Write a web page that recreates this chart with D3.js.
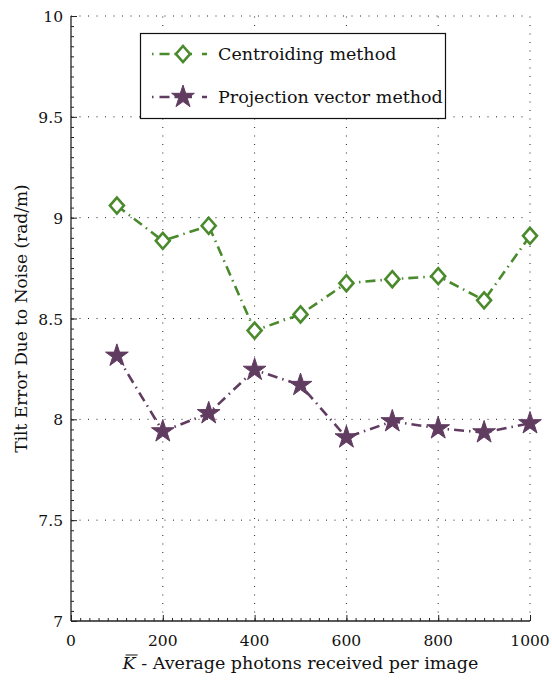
<!DOCTYPE html>
<html>
<head>
<meta charset="utf-8">
<script src="https://cdn.jsdelivr.net/npm/d3@7"></script>
<style>
  body { margin: 0; background: #fff; }
</style>
</head>
<body>
<svg></svg>
<script>
// размеры
const width = 552;
const height = 681;
const margin = { left: 71, right: 22, top: 16, bottom: 60 };
const font = "'DejaVu Serif', serif";

// данные
const photons = [100, 200, 300, 400, 500, 600, 700, 800, 900, 1000];
const centroiding = [9.06, 8.885, 8.96, 8.44, 8.52, 8.675, 8.695, 8.71, 8.59, 8.91];
const projection = [8.315, 7.94, 8.03, 8.245, 8.17, 7.91, 7.99, 7.955, 7.935, 7.98];
const xTicks = [0, 200, 400, 600, 800, 1000];
const yTicks = [7, 7.5, 8, 8.5, 9, 9.5, 10];
const seriesNames = ["Centroiding method", "Projection vector method"];

const green = "#4a8a2c";
const purple = "#613c61";
const dash = "10,5,1.5,5";

let svg = d3.select("svg").attr("width", width).attr("height", height)
    .attr("font-family", font).style("font-family", font);

const x = d3.scaleLinear().domain([0, 1000]).range([margin.left, width - margin.right]);
const y = d3.scaleLinear().domain([7, 10]).range([height - margin.bottom, margin.top]);

// сетка
let grid = svg.append("g").style("stroke", "#222").style("stroke-width", 1).style("stroke-dasharray", "1,7.5");
xTicks.slice(1).forEach(t => {
    grid.append("line").attr("x1", x(t)).attr("x2", x(t)).attr("y1", y(7)).attr("y2", y(10));
});
yTicks.slice(1).forEach(t => {
    grid.append("line").attr("x1", x(0)).attr("x2", x(1000)).attr("y1", y(t)).attr("y2", y(t));
});

// оси с малыми делениями внутрь
let xAxis = svg.append("g").attr("transform", `translate(0,${y(7)})`);
xAxis.call(d3.axisBottom(x).tickValues(d3.range(0, 1001, 20)).tickSize(-3).tickFormat(""));
xAxis.append("g").call(d3.axisBottom(x).tickValues(xTicks).tickSize(-6).tickFormat(""));
xAxis.selectAll("path.domain").remove();
xAxis.selectAll("line").style("stroke", "#222");
xAxis.append("line").attr("x1", x(0)).attr("x2", x(1000)).style("stroke", "#222").style("stroke-width", 1.3);
xTicks.forEach(t => {
    xAxis.append("text").attr("x", x(t)).attr("y", 25).attr("text-anchor", "middle")
        .style("font-family", font).style("font-size", "15.5px").style("fill", "#111").text(t);
});

let yAxis = svg.append("g").attr("transform", `translate(${x(0)},0)`);
yAxis.call(d3.axisLeft(y).tickValues(d3.range(140, 201).map(v => v / 20)).tickSize(-3).tickFormat(""));
yAxis.append("g").call(d3.axisLeft(y).tickValues(yTicks).tickSize(-6).tickFormat(""));
yAxis.selectAll("path.domain").remove();
yAxis.selectAll("line").style("stroke", "#222");
yAxis.append("line").attr("y1", y(7)).attr("y2", y(10)).style("stroke", "#222").style("stroke-width", 1.3);
yTicks.forEach(t => {
    yAxis.append("text").attr("x", -8).attr("y", y(t) + 6).attr("text-anchor", "end")
        .style("font-family", font).style("font-size", "15.5px").style("fill", "#111").text(t);
});

// подписи осей
let xl = svg.append("text").attr("x", (x(0) + x(1000)) / 2).attr("y", 669)
    .attr("text-anchor", "middle").style("font-family", font).style("font-size", "17.5px").style("fill", "#111");
let kSpan = xl.append("tspan").style("font-style", "italic").text("K");
xl.append("tspan").text(" - Average photons received per image");
// черта над K
let kBox = kSpan.node().getBBox();
svg.append("line").attr("x1", kBox.x + 4).attr("x2", kBox.x + kBox.width + 1)
    .attr("y1", kBox.y + 2).attr("y2", kBox.y + 2)
    .style("stroke", "#111").style("stroke-width", 1);

svg.append("text").attr("transform", `translate(27,${(y(7) + y(10)) / 2}) rotate(-90)`)
    .attr("text-anchor", "middle").style("font-family", font).style("font-size", "17px").style("fill", "#111")
    .text("Tilt Error Due to Noise (rad/m)");

// линии
const line = d3.line().x(d => x(d[0])).y(d => y(d[1]));
const star = d3.symbol().type(d3.symbolStar).size(160);
const diamond = "M0,-8L7,0L0,8L-7,0Z";

function drawSeries(values, color, marker) {
    const pts = photons.map((p, i) => [p, values[i]]);
    svg.append("path").attr("d", line(pts)).attr("fill", "none")
        .style("stroke", color).style("stroke-width", 2.6).style("stroke-dasharray", dash);
    let g = svg.append("g");
    pts.forEach(d => drawMarker(g, x(d[0]), y(d[1]), color, marker));
}

function drawMarker(g, cx, cy, color, marker) {
    if (marker === "diamond") {
        g.append("path").attr("d", diamond).attr("transform", `translate(${cx},${cy})`)
            .attr("fill", "#fff").style("stroke", color).style("stroke-width", 2.6);
    } else {
        g.append("path").attr("d", star()).attr("transform", `translate(${cx},${cy})`)
            .attr("fill", color).style("stroke", color).style("stroke-width", 1);
    }
}

drawSeries(centroiding, green, "diamond");
drawSeries(projection, purple, "star");

// легенда
let legend = svg.append("g");
legend.append("rect").attr("x", 140.5).attr("y", 33.5).attr("width", 305).attr("height", 85)
    .attr("fill", "#fff").style("stroke", "#111").style("stroke-width", 1.2);
[[green, "diamond", 54], [purple, "star", 97]].forEach((d, i) => {
    legend.append("line").attr("x1", 152).attr("x2", 213).attr("y1", d[2]).attr("y2", d[2])
        .style("stroke", d[0]).style("stroke-width", 2.6).style("stroke-dasharray", "1.5,6,10,5,10");
    drawMarker(legend, 183, d[2], d[0], d[1]);
    legend.append("text").attr("x", 218).attr("y", d[2] + 6)
        .style("font-family", font).style("font-size", "17.5px").style("fill", "#111").text(seriesNames[i]);
});
</script>
</body>
</html>
